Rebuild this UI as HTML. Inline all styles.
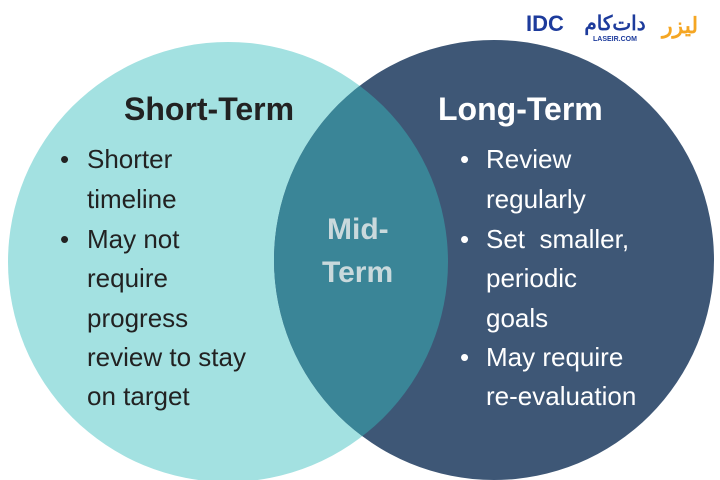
<!DOCTYPE html>
<html><head><style>
body{margin:0;width:720px;height:480px;overflow:hidden;background:#fff;font-family:"Liberation Sans",sans-serif;}
.t{position:absolute;white-space:nowrap;font-size:26px;line-height:26px;}
.h{position:absolute;white-space:nowrap;font-size:32px;font-weight:bold;line-height:32px;}
</style></head><body>
<svg width="720" height="480" style="position:absolute;left:0;top:0">
<defs><clipPath id="c"><circle cx="228" cy="262" r="220"/></clipPath></defs>
<circle cx="228" cy="262" r="220" fill="#a3e1e1"/>
<circle cx="494" cy="260" r="220" fill="#3e5776"/>
<circle cx="494" cy="260" r="220" fill="#3a8597" clip-path="url(#c)"/>
<text x="545" y="31" font-family="Liberation Sans,sans-serif" font-weight="bold" font-size="22" fill="#1d3b9c" text-anchor="middle">IDC</text>
<text x="615" y="30" font-family="Noto Sans CJK SC,sans-serif" font-weight="bold" font-size="20" fill="#1d3b9c" text-anchor="middle">دات‌کام</text>
<text x="615" y="41" font-family="Liberation Sans,sans-serif" font-weight="bold" font-size="7" fill="#1d3b9c" text-anchor="middle">LASEIR.COM</text>
<text x="680" y="33" font-family="Noto Sans CJK SC,sans-serif" font-weight="bold" font-size="22" fill="#f5a623" text-anchor="middle">لیزر</text>
</svg>
<div class="h" style="left:124px;top:93px;color:#222">Short-Term</div>
<div class="h" style="left:438px;top:93px;color:#fff">Long-Term</div>
<div class="h" style="left:327px;top:214px;color:#c9d9dc;font-size:30px">Mid-</div>
<div class="h" style="left:322px;top:257px;color:#c9d9dc;font-size:30px">Term</div>
<div style="color:#222">
<div class="t" style="left:60px;top:146px">•</div><div class="t" style="left:87px;top:146px">Shorter</div>
<div class="t" style="left:87px;top:186px">timeline</div>
<div class="t" style="left:60px;top:226px">•</div><div class="t" style="left:87px;top:226px">May not</div>
<div class="t" style="left:87px;top:265px">require</div>
<div class="t" style="left:87px;top:305px">progress</div>
<div class="t" style="left:87px;top:344px">review to stay</div>
<div class="t" style="left:87px;top:383px">on target</div>
</div>
<div style="color:#fff">
<div class="t" style="left:460px;top:146px">•</div><div class="t" style="left:486px;top:146px">Review</div>
<div class="t" style="left:486px;top:186px">regularly</div>
<div class="t" style="left:460px;top:226px">•</div><div class="t" style="left:486px;top:226px">Set&nbsp; smaller,</div>
<div class="t" style="left:486px;top:265px">periodic</div>
<div class="t" style="left:486px;top:305px">goals</div>
<div class="t" style="left:460px;top:344px">•</div><div class="t" style="left:486px;top:344px">May require</div>
<div class="t" style="left:486px;top:383px">re-evaluation</div>
</div>
</body></html>
